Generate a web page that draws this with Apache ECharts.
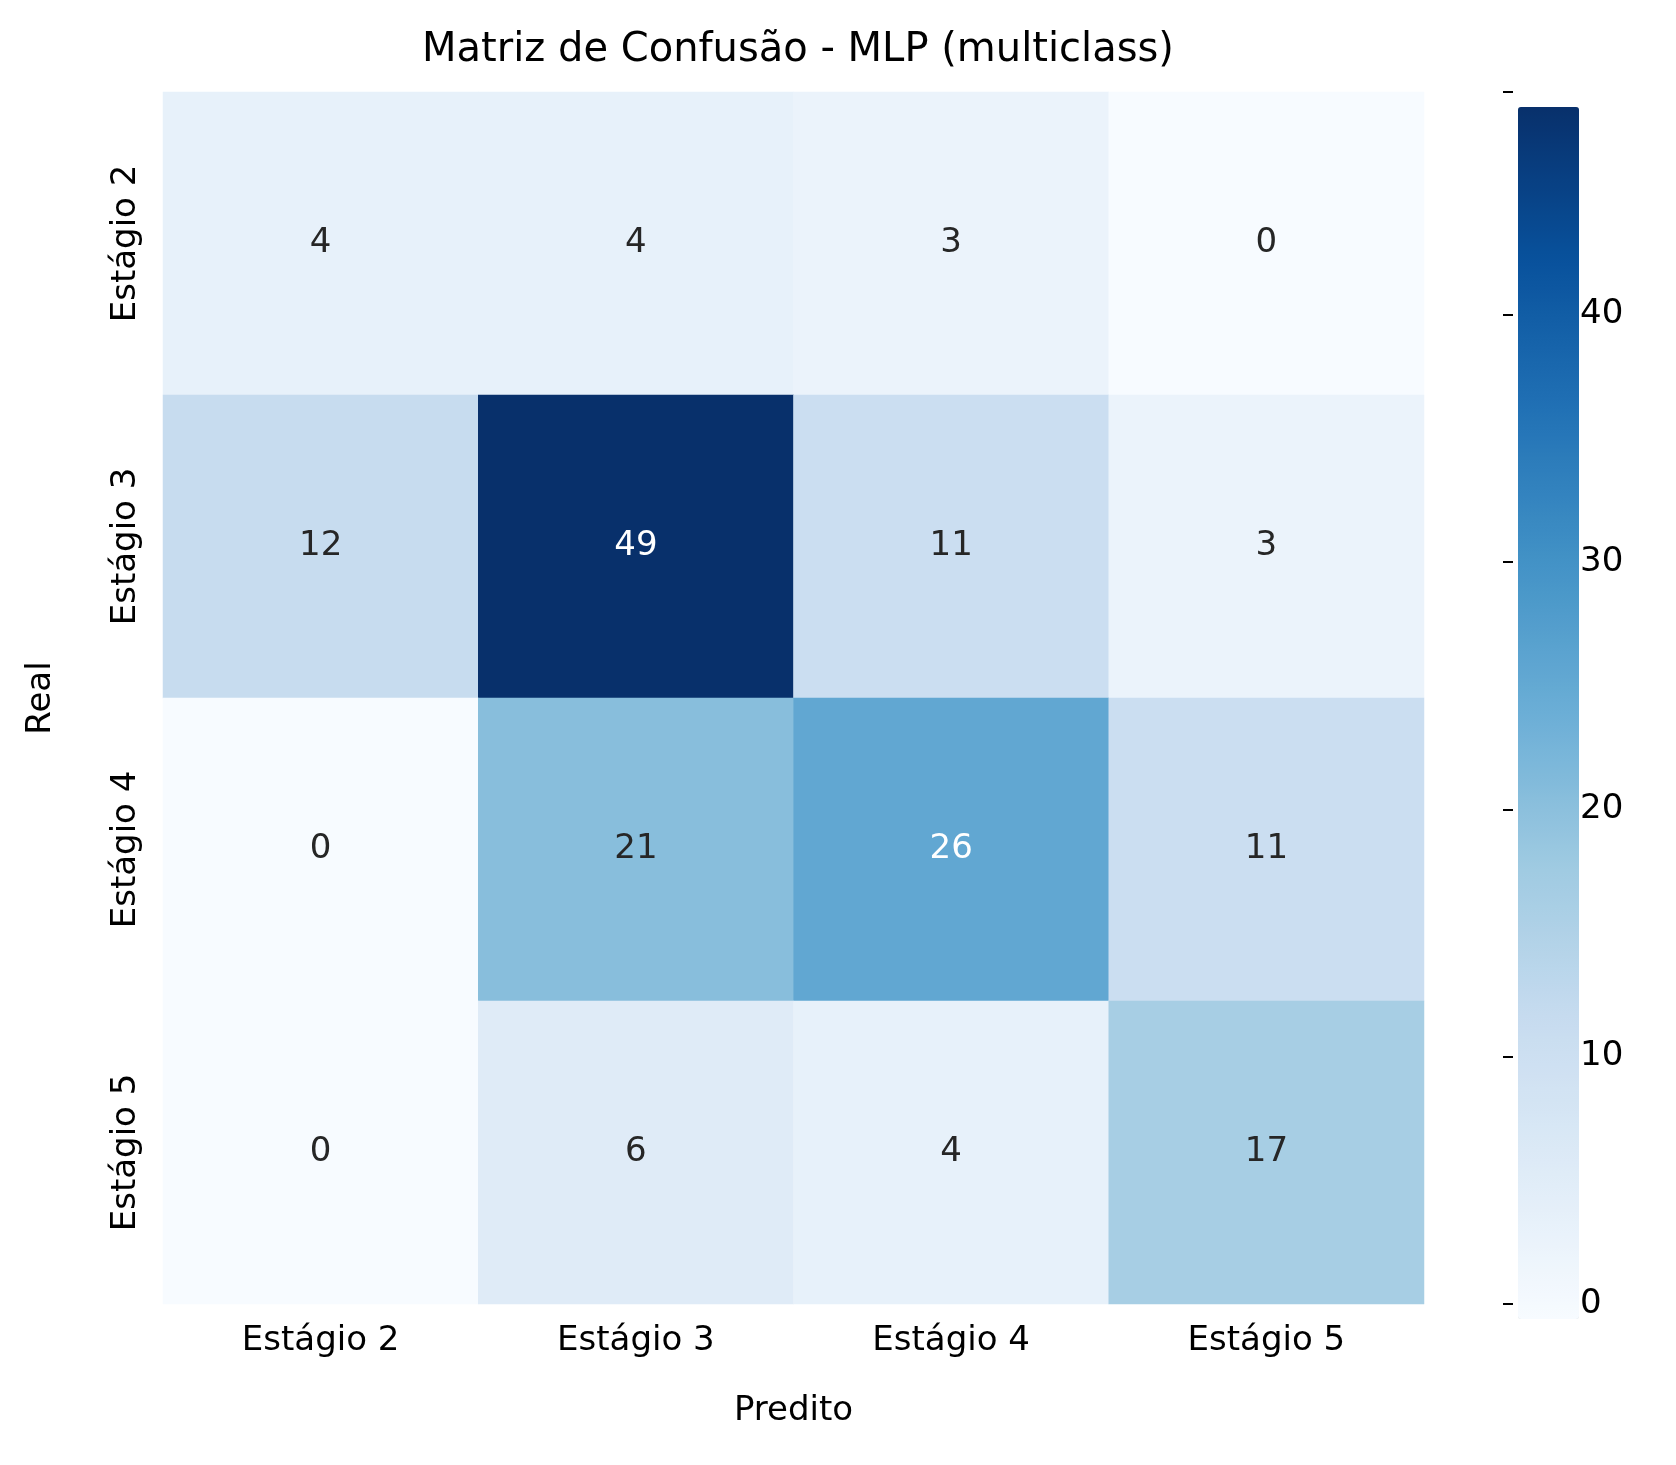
<!DOCTYPE html>
<html><head><meta charset="utf-8">
<script src="https://cdn.jsdelivr.net/npm/echarts@6/dist/echarts.min.js"></script>
<style>html,body{margin:0;background:#fff}#c{width:1676px;height:1465px}</style>
</head><body><div id="c"></div>
<script>
const classes = ['Estágio 2', 'Estágio 3', 'Estágio 4', 'Estágio 5'];
// rows = real, cols = predito
const matrix = [
  [4, 4, 3, 0],
  [12, 49, 11, 3],
  [0, 21, 26, 11],
  [0, 6, 4, 17]
];
const cbTicks = [0, 10, 20, 30, 40];
const blues = ['#f7fbff', '#deebf7', '#c6dbef', '#9ecae1', '#6baed6', '#4292c6', '#2171b5', '#08519c', '#08306b'];

const vmax = 49;
const data = [];
matrix.forEach((row, r) => row.forEach((v, c) => {
  data.push({ value: [c, r, v], label: { color: v > vmax * 0.5 ? '#ffffff' : '#262626' } });
}));

const font = 'DejaVu Sans';
const chart = echarts.init(document.getElementById('c'));
chart.setOption({
  animation: false,
  textStyle: { fontFamily: font },
  title: { text: 'Matriz de Confusão - MLP (multiclass)', left: 793, top: 26, textAlign: 'center',
    textStyle: { fontFamily: font, fontSize: 40, fontWeight: 'normal', color: '#000' } },
  grid: [
    { left: 163, top: 92, width: 1261, height: 1212 },
    { left: 1503, top: 92, width: 61, height: 1212 }
  ],
  xAxis: [
    { type: 'category', data: classes, gridIndex: 0, position: 'bottom',
      name: 'Predito', nameLocation: 'middle', nameGap: 90,
      nameTextStyle: { fontSize: 34, color: '#000' },
      axisLine: { show: false }, axisTick: { length: 10, alignWithLabel: true, lineStyle: { color: '#000', width: 2 } },
      axisLabel: { fontSize: 34, color: '#000', margin: 20 }, splitLine: { show: false } },
    { type: 'value', gridIndex: 1, show: false }
  ],
  yAxis: [
    { type: 'category', data: classes, inverse: true, gridIndex: 0,
      name: 'Real', nameLocation: 'middle', nameGap: 105, nameRotate: 90,
      nameTextStyle: { fontSize: 34, color: '#000' },
      axisLine: { show: false }, axisTick: { length: 10, alignWithLabel: true, lineStyle: { color: '#000', width: 2 } },
      axisLabel: { fontSize: 34, color: '#000', rotate: 90, margin: 20 }, splitLine: { show: false } },
    { type: 'value', gridIndex: 1, position: 'right', min: 0, max: vmax, interval: 10,
      axisLine: { show: false }, axisTick: { show: true, length: 10, lineStyle: { color: '#000', width: 2 } },
      axisLabel: { fontSize: 34, color: '#000', margin: 16, formatter: v => cbTicks.includes(v) ? v : '' },
      splitLine: { show: false } }
  ],
  visualMap: {
    type: 'continuous', min: 0, max: vmax, seriesIndex: 0, calculable: false,
    left: 1503, top: 92, itemWidth: 61, itemHeight: 1212, text: ['', ''],
    showLabel: false, inRange: { color: blues }, textStyle: { color: 'transparent' }
  },
  series: [{
    type: 'heatmap', xAxisIndex: 0, yAxisIndex: 0, data: data,
    label: { show: true, fontSize: 34, fontFamily: font },
    emphasis: { disabled: true }
  }]
});
</script></body></html>
